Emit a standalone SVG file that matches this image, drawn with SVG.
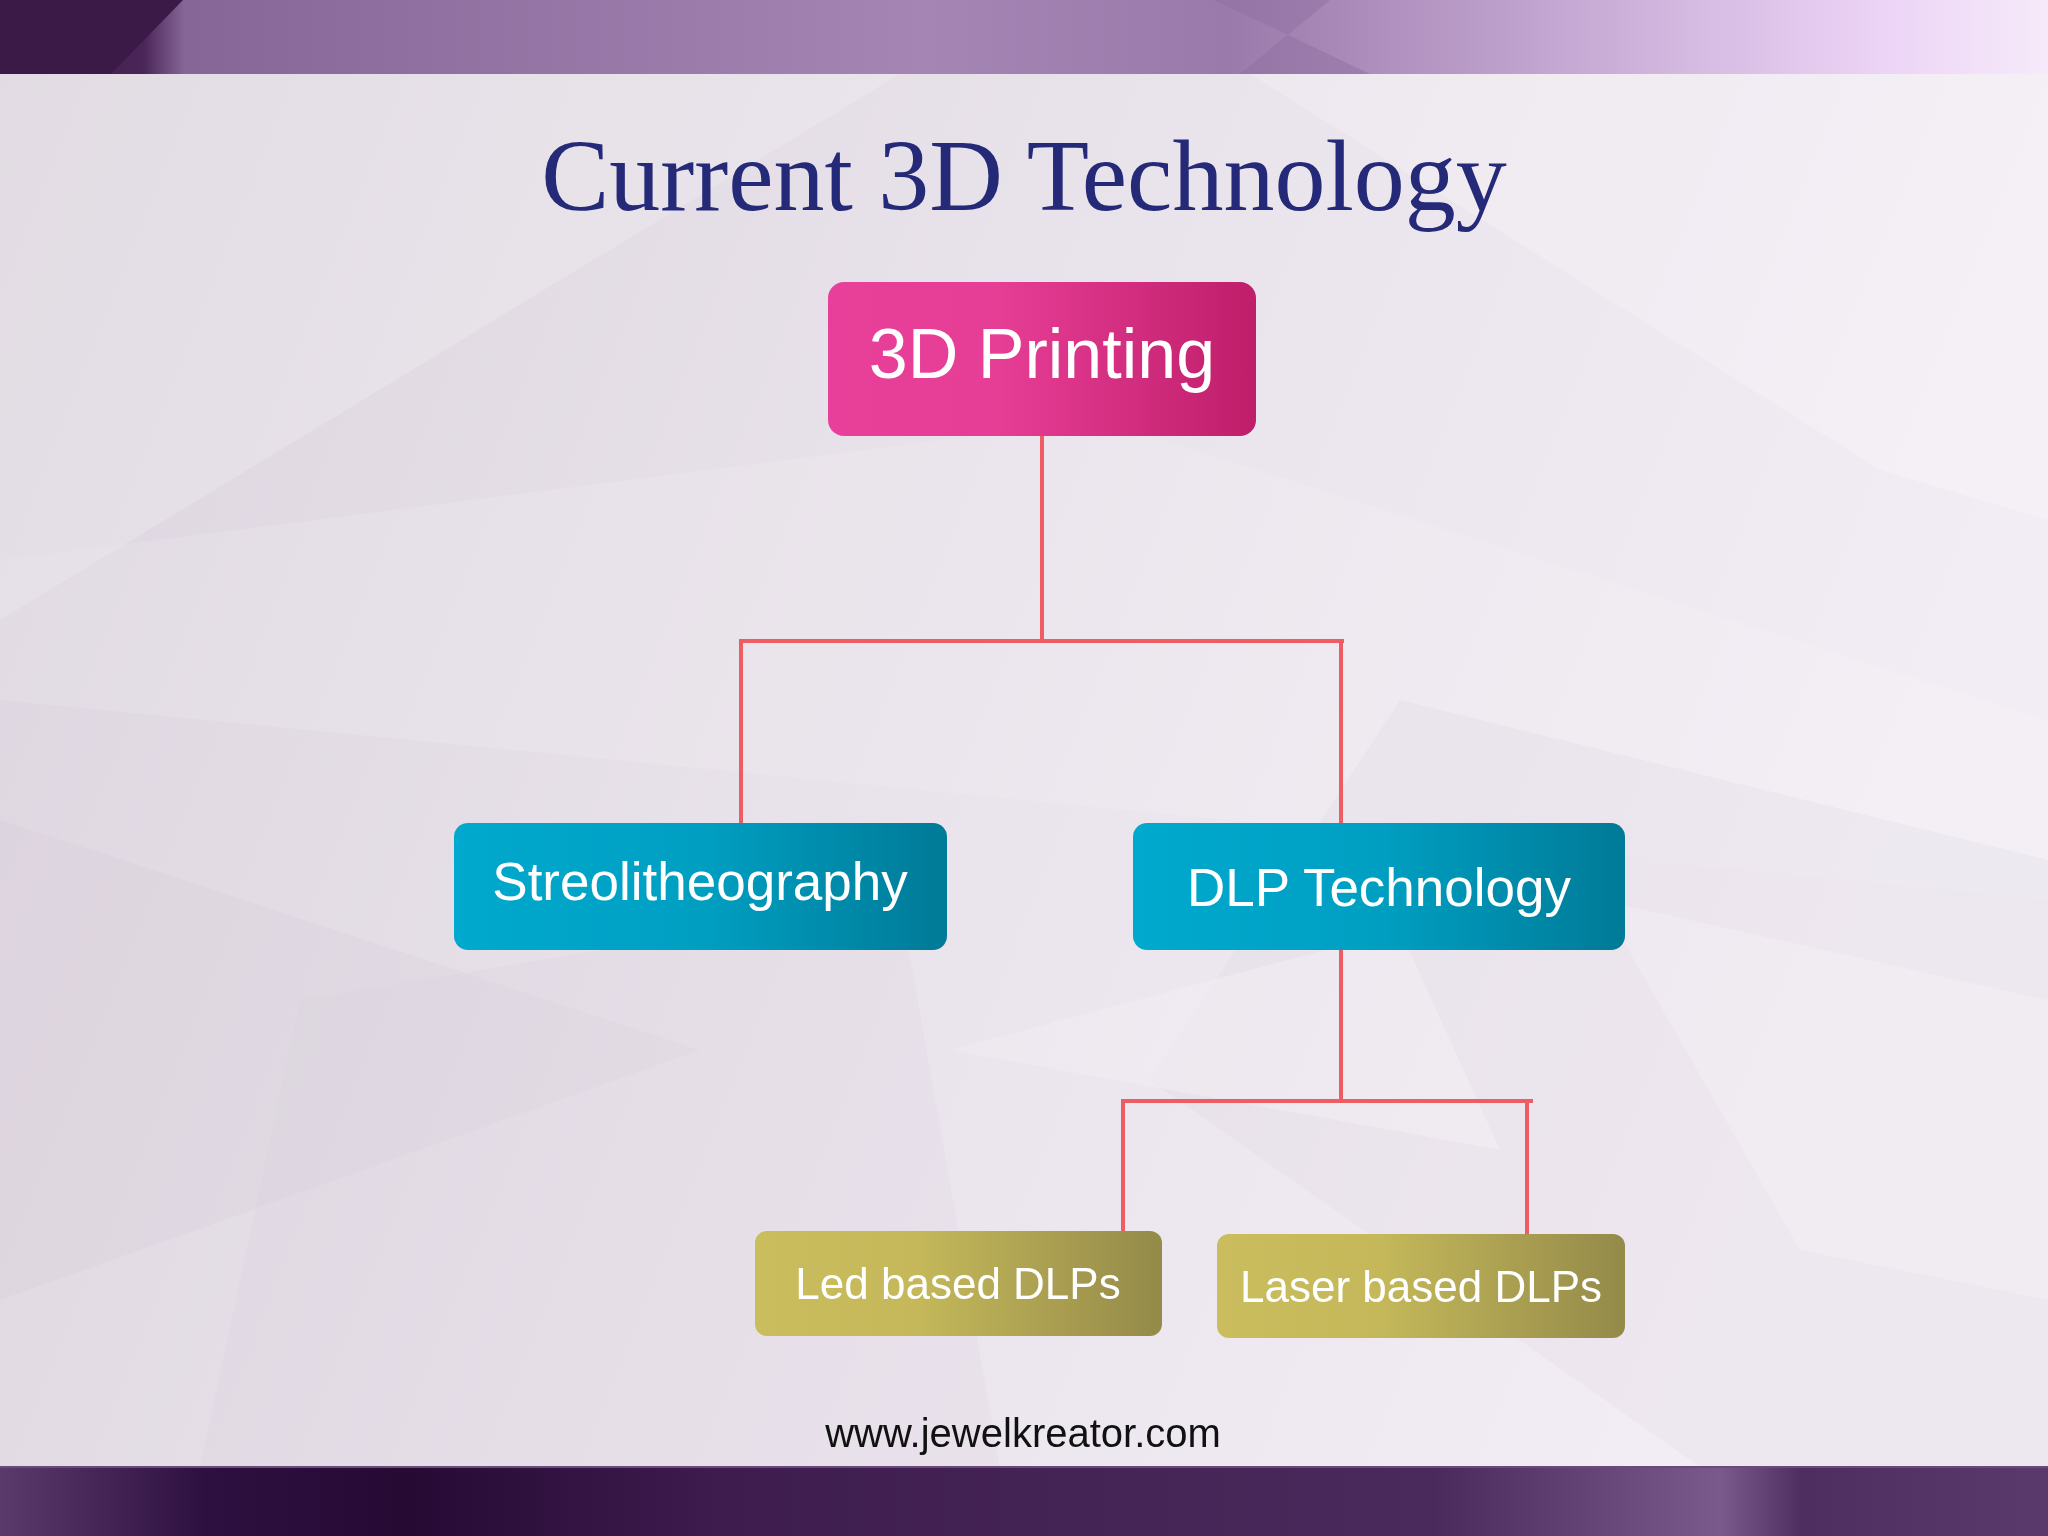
<svg xmlns="http://www.w3.org/2000/svg" width="2048" height="1536" viewBox="0 0 2048 1536">
  <defs>
    <linearGradient id="bg" x1="0" y1="0" x2="1" y2="0.3">
      <stop offset="0" stop-color="#dcd4de"/>
      <stop offset="0.5" stop-color="#e8e2ea"/>
      <stop offset="1" stop-color="#f2edf4"/>
    </linearGradient>
    <linearGradient id="topband" x1="0" y1="0" x2="1" y2="0">
      <stop offset="0" stop-color="#3a1846"/>
      <stop offset="0.07" stop-color="#4a2658"/>
      <stop offset="0.09" stop-color="#866696"/>
      <stop offset="0.45" stop-color="#a585b4"/>
      <stop offset="0.6" stop-color="#9a7aaa"/>
      <stop offset="0.75" stop-color="#c2a4d0"/>
      <stop offset="0.92" stop-color="#ecd4f6"/>
      <stop offset="1" stop-color="#f6eafa"/>
    </linearGradient>
    <linearGradient id="botband" x1="0" y1="0" x2="1" y2="0">
      <stop offset="0" stop-color="#5a3a6a"/>
      <stop offset="0.1" stop-color="#2e1040"/>
      <stop offset="0.2" stop-color="#260a34"/>
      <stop offset="0.35" stop-color="#3e1c4e"/>
      <stop offset="0.7" stop-color="#4a2a5c"/>
      <stop offset="0.84" stop-color="#7a5a8c"/>
      <stop offset="0.88" stop-color="#4e2e60"/>
      <stop offset="1" stop-color="#5a3a6c"/>
    </linearGradient>
    <linearGradient id="pink" x1="0" y1="0" x2="1" y2="0">
      <stop offset="0" stop-color="#e8409a"/>
      <stop offset="0.4" stop-color="#e63d95"/>
      <stop offset="1" stop-color="#bf1e6a"/>
    </linearGradient>
    <linearGradient id="teal" x1="0" y1="0" x2="1" y2="0">
      <stop offset="0" stop-color="#00a9cd"/>
      <stop offset="0.5" stop-color="#009fc2"/>
      <stop offset="1" stop-color="#007a97"/>
    </linearGradient>
    <linearGradient id="olive" x1="0" y1="0" x2="1" y2="0">
      <stop offset="0" stop-color="#c9bd5e"/>
      <stop offset="0.4" stop-color="#c4b85a"/>
      <stop offset="1" stop-color="#948a49"/>
    </linearGradient>
    <style>
      .title { font-family: "Liberation Serif", "Times New Roman", serif; font-size: 102px; fill: #252a78; }
      .lbl { font-family: "Liberation Sans", Arial, sans-serif; fill: #ffffff; text-anchor: middle; }
      .conn { fill: none; stroke: #ee5d63; stroke-width: 4; }
      .foot { font-family: "Liberation Sans", Arial, sans-serif; font-size: 40px; fill: #111111; text-anchor: middle; }
    </style>
  </defs>

  <!-- background -->
  <rect x="0" y="0" width="2048" height="1536" fill="url(#bg)"/>
  <g opacity="0.35">
    <polygon points="0,74 900,74 0,620" fill="#ffffff" opacity="0.5"/>
    <polygon points="0,560 1100,420 2048,720 2048,900 0,700" fill="#ffffff" opacity="0.35"/>
    <polygon points="1250,74 2048,74 2048,520 1880,470" fill="#ffffff" opacity="0.6"/>
    <polygon points="0,820 700,1050 0,1300" fill="#c8bccc" opacity="0.4"/>
    <polygon points="1150,1080 1400,700 2048,860 2048,1467 1700,1467" fill="#d0c4d4" opacity="0.4"/>
    <polygon points="950,1050 1400,930 1500,1150" fill="#ffffff" opacity="0.5"/>
    <polygon points="1600,900 2048,1000 2048,1300 1800,1250" fill="#ffffff" opacity="0.4"/>
    <polygon points="300,1000 900,900 1000,1467 200,1467" fill="#cfc3d3" opacity="0.3"/>
  </g>

  <!-- top and bottom bands -->
  <rect x="0" y="0" width="2048" height="74" fill="url(#topband)"/>
  <polygon points="0,0 183,0 111,74 0,74" fill="#3c1a48"/>
  <polygon points="1214,0 1330,0 1240,74 1370,74" fill="#8f6f9f" opacity="0.5"/>
  <rect x="0" y="1467" width="2048" height="69" fill="url(#botband)"/>
  <rect x="0" y="1466" width="2048" height="2" fill="#6a4a7a"/>

  <!-- title -->
  <text class="title" x="1024" y="210" text-anchor="middle">Current 3D Technology</text>

  <!-- connectors -->
  <g id="connectors">
    <path class="conn" d="M1042,436 V641"/>
    <path class="conn" d="M739,641 H1344"/>
    <path class="conn" d="M741,641 V823"/>
    <path class="conn" d="M1341,641 V823"/>
    <path class="conn" d="M1341,950 V1101"/>
    <path class="conn" d="M1121,1101 H1533"/>
    <path class="conn" d="M1123,1101 V1231"/>
    <path class="conn" d="M1527,1101 V1234"/>
  </g>

  <!-- nodes -->
  <g id="node-3d-printing">
    <rect x="828" y="282" width="428" height="154" rx="16" fill="url(#pink)"/>
    <text class="lbl" x="1042" y="378" font-size="70">3D Printing</text>
  </g>
  <g id="node-streolitheography">
    <rect x="454" y="823" width="493" height="127" rx="14" fill="url(#teal)"/>
    <text class="lbl" x="700" y="900" font-size="53">Streolitheography</text>
  </g>
  <g id="node-dlp-technology">
    <rect x="1133" y="823" width="492" height="127" rx="14" fill="url(#teal)"/>
    <text class="lbl" x="1379" y="906" font-size="53">DLP Technology</text>
  </g>
  <g id="node-led-dlps">
    <rect x="755" y="1231" width="407" height="105" rx="12" fill="url(#olive)"/>
    <text class="lbl" x="958" y="1299" font-size="44">Led based DLPs</text>
  </g>
  <g id="node-laser-dlps">
    <rect x="1217" y="1234" width="408" height="104" rx="12" fill="url(#olive)"/>
    <text class="lbl" x="1421" y="1302" font-size="44">Laser based DLPs</text>
  </g>

  <!-- footer -->
  <text class="foot" x="1023" y="1447">www.jewelkreator.com</text>
</svg>
